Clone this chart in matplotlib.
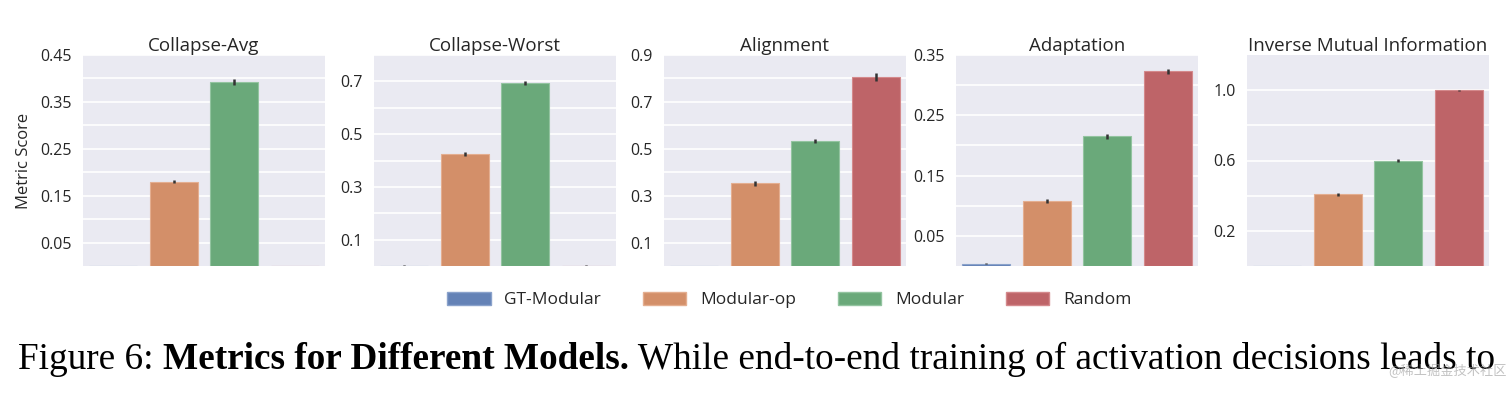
import matplotlib
matplotlib.use("Agg")
import matplotlib.pyplot as plt
from matplotlib.patches import Patch

models = ["GT-Modular", "Modular-op", "Modular", "Random"]
titles = ["Collapse-Avg", "Collapse-Worst", "Alignment", "Adaptation", "Inverse Mutual Information"]

collapse_avg = [0.0, 0.180, 0.392, 0.0]
collapse_avg_err = [0.001, 0.004, 0.006, 0.001]
collapse_worst = [0.0, 0.424, 0.694, 0.0]
collapse_worst_err = [0.002, 0.008, 0.009, 0.002]
alignment = [0.0, 0.353, 0.533, 0.806]
alignment_err = [0.002, 0.010, 0.009, 0.018]
adaptation = [0.004, 0.108, 0.215, 0.323]
adaptation_err = [0.001, 0.003, 0.004, 0.004]
inv_mi = [0.0, 0.408, 0.600, 1.000]
inv_mi_err = [0.002, 0.010, 0.008, 0.002]

values = [collapse_avg, collapse_worst, alignment, adaptation, inv_mi]
errors = [collapse_avg_err, collapse_worst_err, alignment_err, adaptation_err, inv_mi_err]
ylims = [0.45, 0.8, 0.9, 0.35, 1.2]
major_ticks = [[0.05, 0.15, 0.25, 0.35, 0.45],
               [0.1, 0.3, 0.5, 0.7],
               [0.1, 0.3, 0.5, 0.7, 0.9],
               [0.05, 0.15, 0.25, 0.35],
               [0.2, 0.6, 1.0]]
minor_ticks = [[0.1, 0.2, 0.3, 0.4],
               [0.2, 0.4, 0.6, 0.8],
               [0.2, 0.4, 0.6, 0.8],
               [0.1, 0.2, 0.3],
               [0.4, 0.8]]
tick_fmt = ["%.2f", "%.1f", "%.1f", "%.2f", "%.1f"]

# seaborn "deep" palette as it shows up in the figure (desaturated)
colors = ["#6482B6", "#D38F69", "#6AA97A", "#BE6468"]
edges = ["#8AA2CB", "#E4AE90", "#93C4A0", "#D4898C"]

plt.rcParams["font.family"] = ["Open Sans", "DejaVu Sans"]

fig = plt.figure(figsize=(15.12, 3.98), dpi=100)
W, H = 1512.0, 398.0
lefts = [83, 374, 664, 956, 1247]
aw = 242
top_px, bot_px = 55, 266

for i in range(5):
    ax = fig.add_axes([lefts[i] / W, 1 - bot_px / H, aw / W, (bot_px - top_px) / H])
    ax.set_facecolor("#EAEAF2")
    for s in ax.spines.values():
        s.set_visible(False)
    x = range(len(models))
    ax.bar(x, values[i], width=0.8, color=colors, edgecolor=edges, linewidth=0.8,
           yerr=errors[i], error_kw=dict(ecolor="#333333", elinewidth=1.8, capsize=0), zorder=2)
    ax.set_xlim(-0.5, 3.5)
    ax.set_ylim(0, ylims[i])
    ax.set_xticks([])
    ax.set_yticks(major_ticks[i])
    ax.set_yticklabels([tick_fmt[i] % t for t in major_ticks[i]])
    ax.set_yticks(minor_ticks[i], minor=True)
    ax.grid(True, which="both", axis="y", color="white", linewidth=1.2, zorder=0)
    ax.set_axisbelow(True)
    ax.tick_params(axis="y", which="both", length=0, labelsize=11.5, colors="#262626", pad=8)
    ax.set_title(titles[i], fontsize=13.5, color="#262626", pad=3)
    if i == 0:
        ax.set_ylabel("Metric Score", fontsize=12, color="#262626", labelpad=6)

handles = [Patch(facecolor=c, edgecolor=e, label=m) for c, e, m in zip(colors, edges, models)]
fig.legend(handles=handles, loc="center", bbox_to_anchor=(0.522, 1 - 300 / H), ncol=4,
           frameon=False, fontsize=12.5, handlelength=2.5, handleheight=0.8,
           handletextpad=0.8, columnspacing=2.4, labelcolor="#262626")

# caption line
parts = [("Figure 6: ", "normal"), ("Metrics for Different Models.", "bold"),
         (" While end-to-end training of activation decisions leads to", "normal")]
fig.canvas.draw()
r = fig.canvas.get_renderer()
fs = 24
x0 = 18
xs = x0
texts = []
for s, w in parts:
    t = fig.text(xs / W, 1 - 369 / H, s, fontsize=fs, fontweight=w,
                 family="Liberation Serif", va="baseline", ha="left", color="black")
    xs = t.get_window_extent(r).x1
    texts.append(t)
# rescale so the line spans the same width as the reference
scale = (1497 - x0) / (xs - x0)
xs = x0
for t in texts:
    t.set_fontsize(fs * scale)
    t.set_x(xs / W)
    xs = t.get_window_extent(r).x1

fig.text(1388 / W, 1 - 375 / H, "@稀土掘金技术社区", fontsize=9.5, color="#9a9a9a", alpha=0.6,
         family=["Noto Sans CJK SC", "DejaVu Sans"], va="baseline", ha="left")

fig.savefig("out.png", dpi=100, facecolor="white")
